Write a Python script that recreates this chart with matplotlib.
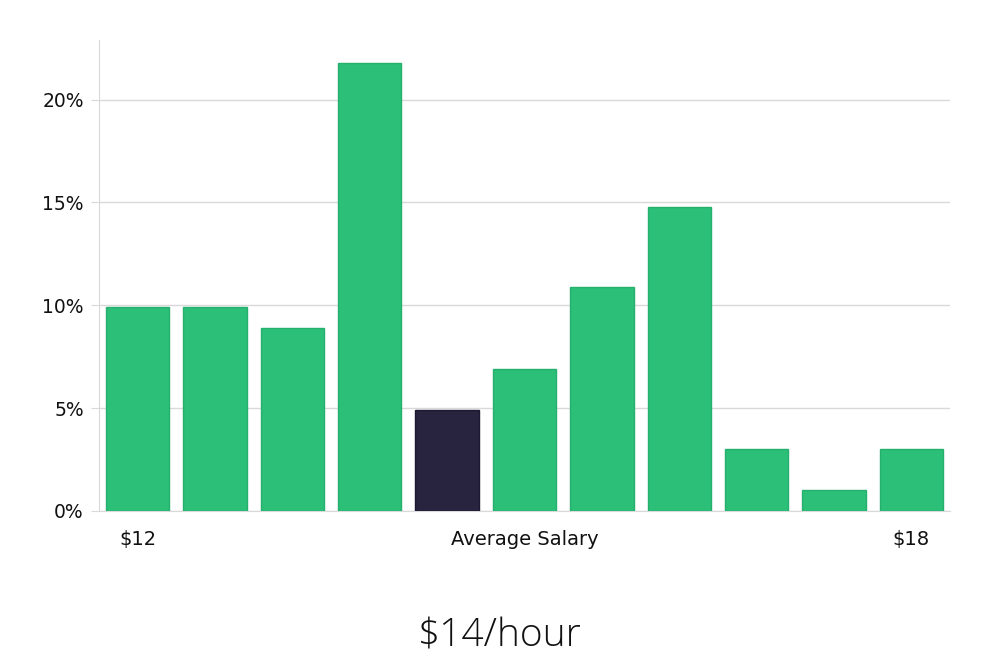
import matplotlib
matplotlib.use("Agg")
import matplotlib.pyplot as plt

# Data
bins = list(range(11))
values = [9.9, 9.9, 8.9, 21.8, 4.9, 6.9, 10.9, 14.8, 3.0, 1.0, 3.0]
highlight_index = 4
xtick_positions = [0, 5, 10]
xtick_labels = ["$12", "Average Salary", "$18"]
yticks = [0, 5, 10, 15, 20]
ytick_labels = ["0%", "5%", "10%", "15%", "20%"]
title = "$14/hour"

green = "#2bbf78"
green_edge = "#26b06e"
dark = "#28233f"
grid_c = "#d9d9d9"

fig = plt.figure(figsize=(10, 6.6), dpi=100)
ax = fig.add_axes([0.099, 0.2258, 0.851, 0.7136])

colors = [dark if i == highlight_index else green for i in bins]
edges = ["#1c1830" if i == highlight_index else green_edge for i in bins]
ax.bar(bins, values, width=0.82, color=colors, edgecolor=edges, linewidth=1.0, zorder=3)

ax.set_xlim(-0.5, 10.5)
ax.set_ylim(0, 22.9)
ax.set_yticks(yticks)
ax.set_yticklabels(ytick_labels)
ax.set_xticks(xtick_positions)
ax.set_xticklabels(xtick_labels)

ax.grid(axis="y", color=grid_c, linewidth=1.0, zorder=0)
ax.grid(axis="x", visible=False)
for s in ["top", "right"]:
    ax.spines[s].set_visible(False)
ax.spines["left"].set_color(grid_c)
ax.spines["bottom"].set_color(grid_c)
ax.tick_params(axis="y", length=6, color=grid_c, labelsize=13.5, pad=5, labelcolor="#111111")
ax.tick_params(axis="x", length=0, labelsize=14, pad=14, labelcolor="#111111")

fig.text(0.5, 0.02, title, ha="center", va="baseline", fontsize=28,
         family=["Open Sans", "DejaVu Sans"], fontweight="light", color="#111111")

fig.savefig("out.png", dpi=100, facecolor="white")
